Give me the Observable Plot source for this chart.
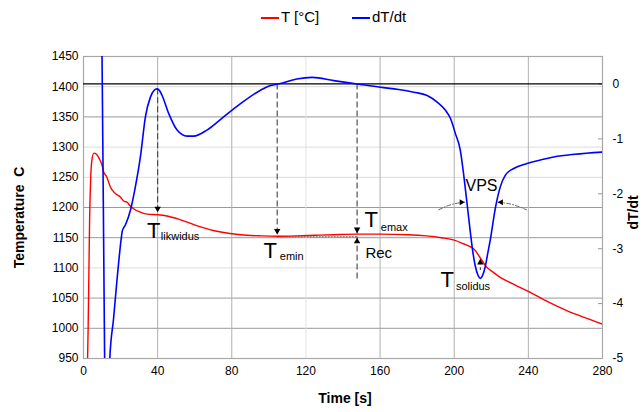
<!DOCTYPE html>
<html>
<head>
<meta charset="utf-8">
<script src="https://cdn.jsdelivr.net/npm/d3@7"></script>
<script src="https://cdn.jsdelivr.net/npm/@observablehq/plot@0.6"></script>
<style>
  body { margin: 0; background: #fff; font-family: "Liberation Sans", Arial, sans-serif; }
  #legend { position: relative; width: 644px; height: 34px; font-size: 15px; color: #000; }
  #legend .sw { position: absolute; top: 17px; width: 18px; height: 2px; }
  #legend .lb { position: absolute; top: 8px; white-space: nowrap; }
</style>
</head>
<body>
<div id="legend"></div>
<div id="chart"></div>
<script>
// ---- data ----
const seriesNames = ["T [°C]", "dT/dt"];
const seriesColors = ["#ff0000", "#0000ff"];

const xTicks = [0, 40, 80, 120, 160, 200, 240, 280];
const yTicks = [950, 1000, 1050, 1100, 1150, 1200, 1250, 1300, 1350, 1400, 1450];
const rightTicks = [0, -1, -2, -3, -4, -5];

// Temperature curve (time s, T °C)
const tempTime = [2.1, 2.5, 2.9, 3.3, 3.9, 4.6, 5.6, 7, 8.5, 10, 11, 12.5, 14.5, 16.5, 20, 22, 23.5, 24.5, 27, 31, 34.5, 40, 45, 52, 61, 70, 79, 88, 96, 105, 115, 125, 135, 148, 160, 175, 185, 193, 200, 205, 208, 211, 214, 217, 221, 225, 230, 236, 242, 248, 256, 264, 272, 280];
const tempVals = [930, 1000, 1090, 1180, 1250, 1280, 1290, 1288, 1281, 1270, 1258, 1251, 1234, 1225, 1217, 1210, 1209, 1205, 1198, 1192, 1189, 1188, 1186, 1180, 1170, 1162, 1157, 1154, 1153, 1152.5, 1153, 1154, 1155, 1156, 1156, 1155, 1153, 1150, 1146, 1140, 1136, 1130, 1117, 1103, 1093, 1084, 1076, 1067, 1058, 1048, 1036, 1025, 1016, 1007];

// dT/dt curve (time s, dT/dt)
const rateTime = [9.6, 10.0, 10.4, 10.9, 11.4, 12.0, 13.0, 13.8, 14.2, 16.2, 18.1, 20.3, 20.9, 22.7, 25.4, 28, 30.7, 33.4, 36.1, 38, 39.7, 41, 42.4, 46, 50.5, 55.9, 59.5, 66.6, 75.6, 84.7, 93.7, 100.9, 106.3, 115, 123.4, 135, 147.6, 160.2, 170, 178.2, 185.4, 190.8, 195.3, 198, 200.6, 203.3, 204.8, 207, 208.7, 210, 211.4, 212.8, 214.1, 215.4, 216.8, 218, 219.5, 222.2, 224.9, 227.6, 232.1, 239.3, 246, 253.7, 265, 280];
const rateVals = [2.0, 0.5, -1, -3, -5, -6.5, -6.8, -5.8, -5.0, -4.28, -3.56, -2.83, -2.68, -2.56, -2.29, -1.87, -1.33, -0.60, -0.24, -0.12, -0.09, -0.12, -0.21, -0.54, -0.84, -0.95, -0.95, -0.84, -0.60, -0.36, -0.15, -0.03, 0.01, 0.09, 0.12, 0.06, 0.0, -0.06, -0.10, -0.15, -0.21, -0.33, -0.48, -0.63, -0.90, -1.21, -1.57, -2.2, -2.7, -3.05, -3.32, -3.48, -3.54, -3.48, -3.32, -3.1, -2.83, -2.26, -1.87, -1.66, -1.54, -1.45, -1.39, -1.33, -1.28, -1.24];

// annotations (data units: time s, temperature °C)
const dashedLines = [
  {t: 40, from: 1396.4, to: 1192},     // T likwidus
  {t: 104.5, from: 1404.5, to: 1155},  // T emin
  {t: 147.6, from: 1404.5, to: 1078.6},// T emax / Rec
  {t: 214.1, from: 1115, to: 1095.7}   // T solidus stem
];
const recLine = [{t1: 104.5, t2: 147.6, T: 1151.5}];
const arrowsDown = [{t: 40, T: 1192}, {t: 104.5, T: 1155.3}, {t: 147.6, T: 1157.5}];
const arrowsUp = [{t: 147.6, T: 1150}, {t: 214.1, T: 1115}];
const arrowsRight = [{t: 205.7, T: 1208.8}];
const arrowsLeft = [{t: 223.5, T: 1208.8}];
const vpsArcLeft = [{t: 191.6, T: 1196.2}, {t: 198.5, T: 1205}, {t: 205.7, T: 1208.8}];
const vpsArcRight = [{t: 223.5, T: 1208.8}, {t: 231.3, T: 1205}, {t: 239.0, T: 1196.2}];
const bigLabels = [
  {t: 34.3, T: 1150.3, text: "T"},
  {t: 97.1, T: 1117.2, text: "T"},
  {t: 151.6, T: 1166.9, text: "T"},
  {t: 192.6, T: 1069.2, text: "T"}
];
const subLabels = [
  {t: 41.7, T: 1147, text: "likwidus"},
  {t: 105.9, T: 1112.3, text: "emin"},
  {t: 160.4, T: 1160.3, text: "emax"},
  {t: 200.9, T: 1064, text: "solidus"}
];
const midLabels = [
  {t: 152.1, T: 1116.4, text: "Rec", size: 15},
  {t: 206.1, T: 1228, text: "VPS", size: 16}
];

// ---- right axis mapping: dT/dt [-5, 0.5] onto T [950, 1450] ----
const rMin = -5, rMax = 0.5, yMin = 950, yMax = 1450;
const toT = d => yMin + (d - rMin) / (rMax - rMin) * (yMax - yMin);

const tempData = tempTime.map((t, i) => ({t, T: tempVals[i]}));
const rateData = rateTime.map((t, i) => ({t, T: toT(rateVals[i])}));

// ---- legend ----
const legend = document.getElementById("legend");
const legendPos = [[261, 281], [352, 372]];
seriesNames.forEach((name, i) => {
  const sw = document.createElement("div");
  sw.className = "sw"; sw.style.left = legendPos[i][0] + "px"; sw.style.background = seriesColors[i];
  const lb = document.createElement("div");
  lb.className = "lb"; lb.style.left = legendPos[i][1] + "px"; lb.textContent = name;
  legend.appendChild(sw); legend.appendChild(lb);
});

const darkGrid = [1000, 1050, 1150, 1200, 1350];
const plotW = 644 - 83 - 42;
const font = "Liberation Sans, Arial, sans-serif";

const chart = Plot.plot({
  width: 644,
  height: 378,
  marginTop: 22,
  marginBottom: 54,
  marginLeft: 83,
  marginRight: 42,
  style: {fontFamily: font, fontSize: "12px", color: "#000", background: "#fff"},
  x: {domain: [0, 280]},
  y: {domain: [yMin, yMax]},
  marks: [
    // grid
    Plot.ruleY(yTicks.filter(v => v > yMin && v < yMax), {stroke: v => darkGrid.includes(v) ? "#9a9a9a" : "#dcdcdc", strokeWidth: 1}),
    Plot.ruleX(xTicks.filter(v => v > 0 && v < 280), {stroke: v => v === 120 ? "#e2e2e2" : "#b0b0b0", strokeWidth: 1}),
    Plot.ruleY(rightTicks.map(toT), {insetLeft: plotW - 4, stroke: "#9a9a9a"}),
    Plot.frame({stroke: "#a8a8a8", strokeWidth: 1.2}),
    Plot.ruleY([toT(0)], {stroke: "#000", strokeWidth: 1.2}),
    // axes
    Plot.axisX({ticks: xTicks, tickSize: 0, tickPadding: 8, label: null, fontSize: 12, tickFormat: d => String(d)}),
    Plot.axisY({ticks: yTicks, tickSize: 0, tickPadding: 5, label: null, fontSize: 12, tickFormat: d => String(d)}),
    Plot.axisY(rightTicks.map(toT), {anchor: "right", tickSize: 0, tickPadding: 10, label: null, fontSize: 12,
      tickFormat: (v, i) => String(rightTicks[i])}),
    Plot.text(["Temperature  C"], {frameAnchor: "left", textAnchor: "middle", dx: -64, dy: 10, rotate: -90, fontWeight: "bold", fontSize: 14}),
    Plot.text(["dT/dt"], {frameAnchor: "right", textAnchor: "middle", dx: 31, dy: 5, rotate: -90, fontWeight: "bold", fontSize: 14}),
    Plot.text(["Time [s]"], {frameAnchor: "bottom", textAnchor: "middle", dy: 44, dx: 2, fontWeight: "bold", fontSize: 14}),
    // annotation lines
    Plot.ruleX(dashedLines, {x: "t", y1: "from", y2: "to", stroke: "#404040", strokeWidth: 1.1, strokeDasharray: "6,3"}),
    Plot.ruleY(recLine, {y: "T", x1: "t1", x2: "t2", stroke: "#333", strokeWidth: 0.8, strokeDasharray: "2,1"}),
    Plot.line(vpsArcLeft, {x: "t", y: "T", curve: "natural", stroke: "#555", strokeWidth: 0.9, strokeDasharray: "4,2,1,2"}),
    Plot.line(vpsArcRight, {x: "t", y: "T", curve: "natural", stroke: "#555", strokeWidth: 0.9, strokeDasharray: "4,2,1,2"}),
    // series
    Plot.line(tempData, {x: "t", y: "T", stroke: seriesColors[0], strokeWidth: 1.4, curve: "monotone-x", clip: true}),
    Plot.line(rateData, {x: "t", y: "T", stroke: seriesColors[1], strokeWidth: 1.6, curve: "monotone-x", clip: true}),
    // arrow heads
    Plot.dot(arrowsDown, {x: "t", y: "T", symbol: "triangle", rotate: 180, r: 2.4, dy: -3.7, fill: "#000", stroke: null}),
    Plot.dot(arrowsUp, {x: "t", y: "T", symbol: "triangle", r: 2.4, dy: 3.7, fill: "#000", stroke: null}),
    Plot.dot(arrowsRight, {x: "t", y: "T", symbol: "triangle", rotate: 90, r: 2.2, dx: -3.4, fill: "#000", stroke: null}),
    Plot.dot(arrowsLeft, {x: "t", y: "T", symbol: "triangle", rotate: -90, r: 2.2, dx: 3.4, fill: "#000", stroke: null}),
    // labels
    Plot.text(bigLabels, {x: "t", y: "T", text: "text", fontSize: 22, textAnchor: "start", lineAnchor: "bottom", fill: "#000"}),
    Plot.text(subLabels, {x: "t", y: "T", text: "text", fontSize: 11, textAnchor: "start", lineAnchor: "bottom", fill: "#000"}),
    Plot.text(midLabels, {x: "t", y: "T", text: "text", fontSize: d => d.size, textAnchor: "start", lineAnchor: "bottom", fill: "#000"})
  ]
});
document.getElementById("chart").appendChild(chart);
</script>
</body>
</html>
